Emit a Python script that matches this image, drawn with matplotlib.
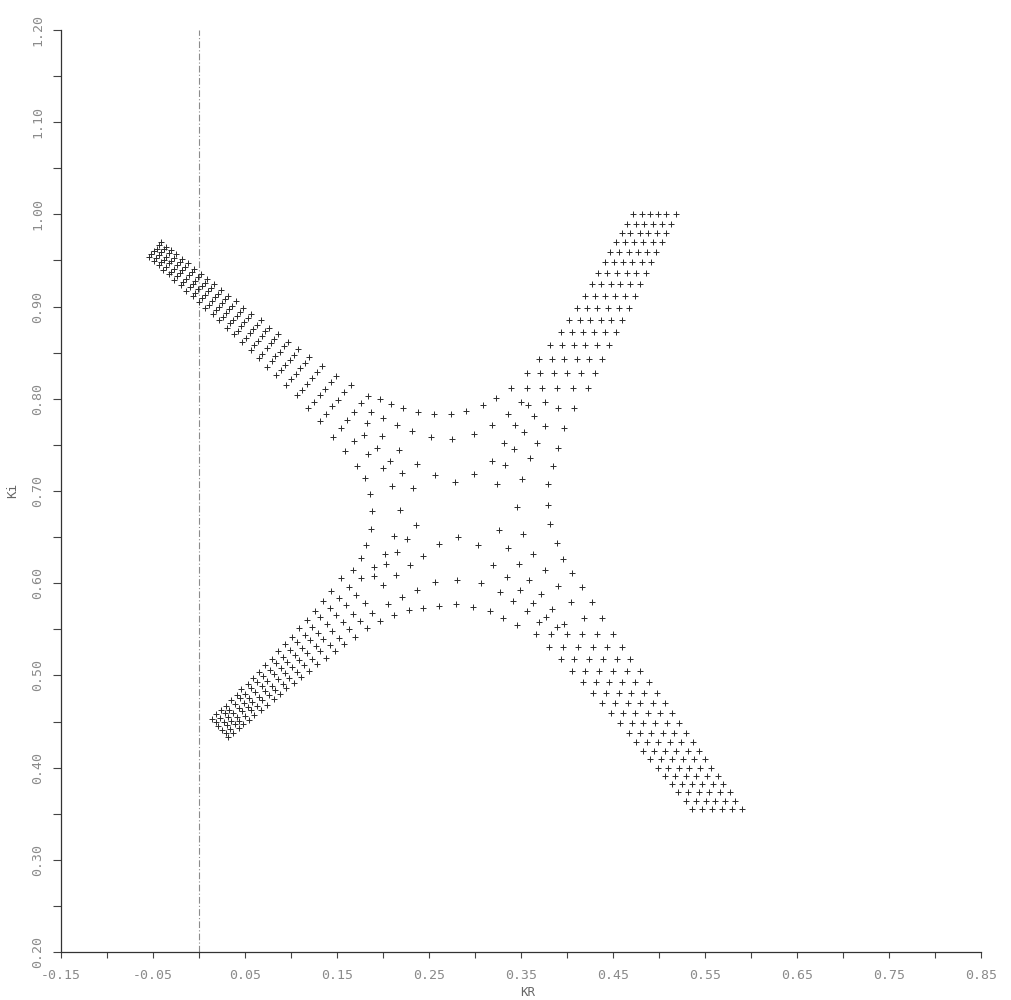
import matplotlib
matplotlib.use("Agg")
import matplotlib.pyplot as plt
from matplotlib.ticker import FixedLocator, MultipleLocator

# Mesh of computed roots (KR, Ki).
# Arms: each list in *_x / *_y is one row of points running along the arm.

# upper-left arm, rows from the upper edge to the lower edge
ul_x = [
    [0.184, 0.165, 0.149, 0.134, 0.120, 0.108, 0.097, 0.086, 0.076, 0.067, 0.057, 0.048, 0.040, 0.032, 0.024, 0.016, 0.009, 0.002, -0.005, -0.012, -0.018, -0.025, -0.030, -0.036, -0.041],
    [0.176, 0.158, 0.143, 0.128, 0.115, 0.103, 0.092, 0.082, 0.072, 0.063, 0.053, 0.045, 0.036, 0.028, 0.021, 0.013, 0.006, -0.001, -0.008, -0.015, -0.021, -0.027, -0.033, -0.038, -0.044],
    [0.169, 0.151, 0.137, 0.123, 0.110, 0.099, 0.088, 0.078, 0.068, 0.059, 0.049, 0.041, 0.033, 0.025, 0.017, 0.010, 0.003, -0.004, -0.011, -0.018, -0.024, -0.030, -0.036, -0.041, -0.046],
    [0.161, 0.145, 0.131, 0.117, 0.105, 0.094, 0.083, 0.074, 0.064, 0.055, 0.046, 0.037, 0.029, 0.022, 0.014, 0.006, -0.001, -0.007, -0.014, -0.021, -0.027, -0.033, -0.038, -0.044, -0.049],
    [0.154, 0.138, 0.125, 0.112, 0.100, 0.089, 0.079, 0.069, 0.060, 0.051, 0.042, 0.034, 0.026, 0.018, 0.011, 0.003, -0.004, -0.010, -0.017, -0.024, -0.030, -0.036, -0.041, -0.047, -0.052],
    [0.146, 0.132, 0.119, 0.106, 0.095, 0.084, 0.074, 0.065, 0.056, 0.047, 0.038, 0.030, 0.022, 0.015, 0.007, 0.000, -0.007, -0.014, -0.020, -0.027, -0.033, -0.039, -0.044, -0.049, -0.054],
]
ul_y = [
    [0.803, 0.815, 0.825, 0.836, 0.845, 0.854, 0.862, 0.870, 0.877, 0.885, 0.892, 0.899, 0.906, 0.912, 0.918, 0.924, 0.930, 0.935, 0.941, 0.947, 0.952, 0.957, 0.961, 0.965, 0.970],
    [0.795, 0.807, 0.818, 0.829, 0.839, 0.848, 0.857, 0.865, 0.873, 0.880, 0.888, 0.894, 0.901, 0.908, 0.914, 0.920, 0.926, 0.932, 0.937, 0.943, 0.948, 0.953, 0.958, 0.962, 0.967],
    [0.786, 0.799, 0.811, 0.823, 0.833, 0.842, 0.851, 0.860, 0.868, 0.876, 0.883, 0.890, 0.897, 0.904, 0.910, 0.917, 0.922, 0.928, 0.934, 0.940, 0.945, 0.950, 0.954, 0.959, 0.963],
    [0.777, 0.792, 0.804, 0.816, 0.827, 0.837, 0.846, 0.855, 0.863, 0.871, 0.879, 0.886, 0.893, 0.900, 0.906, 0.913, 0.919, 0.924, 0.930, 0.936, 0.941, 0.947, 0.951, 0.956, 0.960],
    [0.768, 0.784, 0.797, 0.810, 0.821, 0.831, 0.841, 0.849, 0.858, 0.866, 0.874, 0.882, 0.889, 0.896, 0.902, 0.909, 0.915, 0.921, 0.927, 0.933, 0.938, 0.943, 0.948, 0.953, 0.957],
    [0.759, 0.776, 0.790, 0.804, 0.815, 0.826, 0.835, 0.844, 0.853, 0.862, 0.870, 0.877, 0.885, 0.892, 0.898, 0.905, 0.911, 0.917, 0.923, 0.929, 0.935, 0.940, 0.945, 0.949, 0.954],
]

# lower-left arm, rows from the upper edge to the lower edge
ll_x = [
    [0.014, 0.019, 0.024, 0.029, 0.035, 0.041, 0.046, 0.053, 0.059, 0.065, 0.072, 0.079, 0.086, 0.094, 0.101, 0.109, 0.117, 0.126, 0.135, 0.144, 0.154],
    [0.018, 0.023, 0.028, 0.033, 0.039, 0.045, 0.050, 0.057, 0.063, 0.070, 0.077, 0.084, 0.091, 0.099, 0.107, 0.115, 0.123, 0.132, 0.142, 0.152, 0.163],
    [0.021, 0.027, 0.032, 0.037, 0.043, 0.049, 0.054, 0.061, 0.068, 0.074, 0.081, 0.089, 0.096, 0.104, 0.112, 0.121, 0.129, 0.139, 0.149, 0.160, 0.171],
    [0.025, 0.030, 0.035, 0.041, 0.047, 0.053, 0.058, 0.065, 0.072, 0.079, 0.086, 0.094, 0.101, 0.109, 0.117, 0.127, 0.135, 0.145, 0.156, 0.167, 0.180],
    [0.029, 0.034, 0.039, 0.044, 0.050, 0.056, 0.063, 0.069, 0.076, 0.083, 0.091, 0.098, 0.106, 0.114, 0.123, 0.132, 0.142, 0.152, 0.163, 0.175, 0.188],
    [0.032, 0.037, 0.043, 0.048, 0.054, 0.060, 0.067, 0.074, 0.081, 0.088, 0.095, 0.103, 0.111, 0.120, 0.128, 0.138, 0.148, 0.158, 0.170, 0.183, 0.197],
]
ll_y = [
    [0.453, 0.458, 0.463, 0.467, 0.473, 0.479, 0.485, 0.491, 0.497, 0.504, 0.511, 0.518, 0.526, 0.534, 0.542, 0.551, 0.560, 0.570, 0.581, 0.592, 0.606],
    [0.449, 0.454, 0.459, 0.463, 0.469, 0.475, 0.480, 0.486, 0.493, 0.499, 0.506, 0.513, 0.520, 0.528, 0.536, 0.544, 0.553, 0.563, 0.573, 0.584, 0.596],
    [0.445, 0.450, 0.455, 0.459, 0.465, 0.470, 0.476, 0.482, 0.488, 0.494, 0.501, 0.508, 0.515, 0.522, 0.530, 0.538, 0.546, 0.556, 0.565, 0.576, 0.587],
    [0.441, 0.446, 0.451, 0.455, 0.461, 0.466, 0.471, 0.477, 0.483, 0.489, 0.496, 0.503, 0.509, 0.517, 0.524, 0.532, 0.540, 0.548, 0.558, 0.567, 0.578],
    [0.437, 0.442, 0.447, 0.451, 0.456, 0.462, 0.467, 0.473, 0.479, 0.484, 0.491, 0.497, 0.504, 0.511, 0.518, 0.526, 0.533, 0.541, 0.550, 0.559, 0.568],
    [0.433, 0.438, 0.443, 0.447, 0.452, 0.457, 0.463, 0.468, 0.474, 0.480, 0.486, 0.492, 0.498, 0.505, 0.512, 0.519, 0.527, 0.534, 0.542, 0.551, 0.559],
]

# upper-right arm: points of one column share the same Ki
ur_y = [0.812, 0.828, 0.843, 0.858, 0.872, 0.886, 0.899, 0.912, 0.924, 0.936, 0.948, 0.959, 0.970, 0.980, 0.990, 1.000]
ur_x = [
    [0.339, 0.356, 0.370, 0.382, 0.393, 0.402, 0.411, 0.420, 0.427, 0.434, 0.441, 0.447, 0.453, 0.460, 0.465, 0.472],
    [0.356, 0.371, 0.384, 0.395, 0.405, 0.414, 0.422, 0.430, 0.437, 0.444, 0.451, 0.457, 0.463, 0.469, 0.475, 0.481],
    [0.373, 0.386, 0.397, 0.408, 0.417, 0.425, 0.433, 0.441, 0.448, 0.454, 0.461, 0.467, 0.473, 0.479, 0.484, 0.490],
    [0.389, 0.400, 0.411, 0.420, 0.429, 0.437, 0.445, 0.452, 0.458, 0.465, 0.471, 0.477, 0.483, 0.488, 0.494, 0.499],
    [0.406, 0.415, 0.424, 0.433, 0.441, 0.448, 0.456, 0.463, 0.469, 0.475, 0.481, 0.487, 0.493, 0.498, 0.503, 0.508],
    [0.423, 0.430, 0.438, 0.446, 0.453, 0.460, 0.467, 0.474, 0.479, 0.486, 0.491, 0.497, 0.503, 0.508, 0.513, 0.518],
]

# lower-right arm: points of one column share the same Ki
lr_y = [0.545, 0.531, 0.518, 0.505, 0.493, 0.481, 0.470, 0.459, 0.448, 0.438, 0.428, 0.418, 0.409, 0.400, 0.391, 0.382, 0.373, 0.364, 0.355]
lr_x = [
    [0.450, 0.460, 0.469, 0.479, 0.489, 0.498, 0.506, 0.514, 0.522, 0.529, 0.537, 0.543, 0.550, 0.557, 0.564, 0.570, 0.577, 0.583, 0.590],
    [0.433, 0.444, 0.454, 0.465, 0.474, 0.484, 0.493, 0.501, 0.509, 0.516, 0.524, 0.531, 0.538, 0.545, 0.552, 0.559, 0.566, 0.572, 0.579],
    [0.416, 0.428, 0.439, 0.450, 0.460, 0.470, 0.479, 0.488, 0.496, 0.504, 0.512, 0.519, 0.526, 0.533, 0.540, 0.547, 0.554, 0.561, 0.568],
    [0.400, 0.412, 0.424, 0.435, 0.446, 0.456, 0.466, 0.474, 0.483, 0.491, 0.499, 0.507, 0.514, 0.522, 0.529, 0.536, 0.543, 0.551, 0.558],
    [0.383, 0.396, 0.408, 0.420, 0.431, 0.442, 0.452, 0.461, 0.471, 0.479, 0.487, 0.495, 0.502, 0.510, 0.517, 0.525, 0.532, 0.540, 0.547],
    [0.366, 0.380, 0.393, 0.405, 0.417, 0.428, 0.438, 0.448, 0.458, 0.467, 0.475, 0.483, 0.490, 0.499, 0.506, 0.514, 0.521, 0.529, 0.536],
]

# curved rows through the middle of the X
top1_x = [0.197, 0.209, 0.222, 0.238, 0.255, 0.274, 0.290, 0.309, 0.323]
top1_y = [0.800, 0.794, 0.790, 0.786, 0.784, 0.784, 0.787, 0.793, 0.801]
top2_x = [0.187, 0.200, 0.215, 0.231, 0.252, 0.275, 0.299, 0.318, 0.336, 0.350]
top2_y = [0.786, 0.779, 0.772, 0.765, 0.759, 0.756, 0.762, 0.772, 0.783, 0.797]
top3_x = [0.183, 0.199, 0.217, 0.237, 0.257, 0.278, 0.299, 0.318, 0.331, 0.344, 0.358]
top3_y = [0.774, 0.760, 0.744, 0.729, 0.717, 0.710, 0.718, 0.733, 0.752, 0.772, 0.793]
left1_x = [0.159, 0.172, 0.180, 0.186, 0.188, 0.187, 0.182, 0.176, 0.167]
left1_y = [0.743, 0.727, 0.714, 0.697, 0.678, 0.659, 0.641, 0.627, 0.614]
left2_x = [0.168, 0.184, 0.200, 0.210, 0.218, 0.212, 0.202, 0.190, 0.176]
left2_y = [0.754, 0.740, 0.725, 0.705, 0.679, 0.651, 0.632, 0.618, 0.606]
left3_x = [0.179, 0.194, 0.208, 0.221, 0.233, 0.236, 0.226, 0.215, 0.203, 0.190]
left3_y = [0.761, 0.747, 0.733, 0.719, 0.703, 0.663, 0.648, 0.634, 0.621, 0.608]
right1_x = [0.408, 0.397, 0.390, 0.385, 0.379, 0.379, 0.382, 0.389, 0.396, 0.405, 0.416, 0.427, 0.438]
right1_y = [0.790, 0.768, 0.747, 0.727, 0.708, 0.685, 0.664, 0.644, 0.626, 0.611, 0.596, 0.580, 0.562]
right2_x = [0.390, 0.376, 0.367, 0.360, 0.351, 0.346, 0.352, 0.363, 0.376, 0.390, 0.404, 0.418]
right2_y = [0.790, 0.770, 0.752, 0.736, 0.713, 0.683, 0.653, 0.632, 0.614, 0.597, 0.580, 0.562]
right3_x = [0.376, 0.364, 0.353, 0.342, 0.333, 0.324, 0.326, 0.336, 0.348, 0.359, 0.372, 0.384, 0.397]
right3_y = [0.797, 0.781, 0.764, 0.746, 0.728, 0.708, 0.658, 0.638, 0.621, 0.604, 0.588, 0.572, 0.556]
bot1_x = [0.212, 0.228, 0.244, 0.261, 0.279, 0.298, 0.316, 0.330, 0.346]
bot1_y = [0.566, 0.571, 0.573, 0.575, 0.577, 0.574, 0.570, 0.562, 0.555]
bot2_x = [0.205, 0.221, 0.237, 0.257, 0.280, 0.307, 0.327, 0.341, 0.356, 0.370]
bot2_y = [0.577, 0.585, 0.593, 0.601, 0.604, 0.600, 0.590, 0.581, 0.570, 0.558]
bot3_x = [0.200, 0.214, 0.229, 0.244, 0.261, 0.282, 0.303, 0.320, 0.335, 0.349, 0.363, 0.377, 0.389]
bot3_y = [0.598, 0.609, 0.620, 0.629, 0.643, 0.650, 0.641, 0.620, 0.607, 0.593, 0.578, 0.563, 0.553]

x_ticks = [-0.15, -0.05, 0.05, 0.15, 0.25, 0.35, 0.45, 0.55, 0.65, 0.75, 0.85]
y_ticks = [0.20, 0.30, 0.40, 0.50, 0.60, 0.70, 0.80, 0.90, 1.00, 1.10, 1.20]

MARK = dict(linestyle="none", marker="+", ms=4, mew=0.7, color="#2b2b2b")
TICKFONT = "DejaVu Sans Mono"

fig = plt.figure(figsize=(10.12, 10.0), dpi=100)
ax = fig.add_axes([61 / 1012, 48 / 1000, 920 / 1012, 922 / 1000])
ax.set_xlim(-0.15, 0.85)
ax.set_ylim(0.20, 1.20)
for side in ("top", "right"):
    ax.spines[side].set_visible(False)
for side in ("left", "bottom"):
    ax.spines[side].set_color("#333333")
    ax.spines[side].set_linewidth(0.9)

ax.axvline(0.0, color="#8c8c8c", lw=0.8, ls=(0, (6, 2, 1, 2)))

for xs, ys in zip(ul_x, ul_y):
    ax.plot(xs, ys, **MARK)
for xs, ys in zip(ll_x, ll_y):
    ax.plot(xs, ys, **MARK)
for xs in ur_x:
    ax.plot(xs, ur_y, **MARK)
for xs in lr_x:
    ax.plot(xs, lr_y, **MARK)
middle = [(top1_x, top1_y), (top2_x, top2_y), (top3_x, top3_y),
          (left1_x, left1_y), (left2_x, left2_y), (left3_x, left3_y),
          (right1_x, right1_y), (right2_x, right2_y), (right3_x, right3_y),
          (bot1_x, bot1_y), (bot2_x, bot2_y), (bot3_x, bot3_y)]
for xs, ys in middle:
    ax.plot(xs, ys, **MARK)

ax.xaxis.set_major_locator(FixedLocator(x_ticks))
ax.set_xticklabels([f"{v:.2f}" for v in x_ticks], family=TICKFONT)
ax.xaxis.set_minor_locator(FixedLocator([v + 0.05 for v in x_ticks[:-1]]))
ax.yaxis.set_major_locator(FixedLocator(y_ticks))
ax.set_yticklabels([f"{v:.2f}" for v in y_ticks], family=TICKFONT,
                   rotation=90, va="center")
ax.yaxis.set_minor_locator(MultipleLocator(0.05))
ax.tick_params(axis="x", which="both", direction="out", length=4, width=0.8,
               color="#444444", labelsize=9.5, labelcolor="#8a8a8a", pad=8)
ax.tick_params(axis="y", which="both", direction="out", length=6, width=0.8,
               color="#444444", labelsize=9.5, labelcolor="#8a8a8a", pad=6)

ax.set_xlabel("KR", fontsize=9, color="#666666", family=TICKFONT)
ax.xaxis.set_label_coords(0.507, -0.037)
ax.set_ylabel("Ki", fontsize=9, color="#666666", family=TICKFONT)
ax.yaxis.set_label_coords(-0.046, 0.501)

fig.savefig("out.png", dpi=100)
